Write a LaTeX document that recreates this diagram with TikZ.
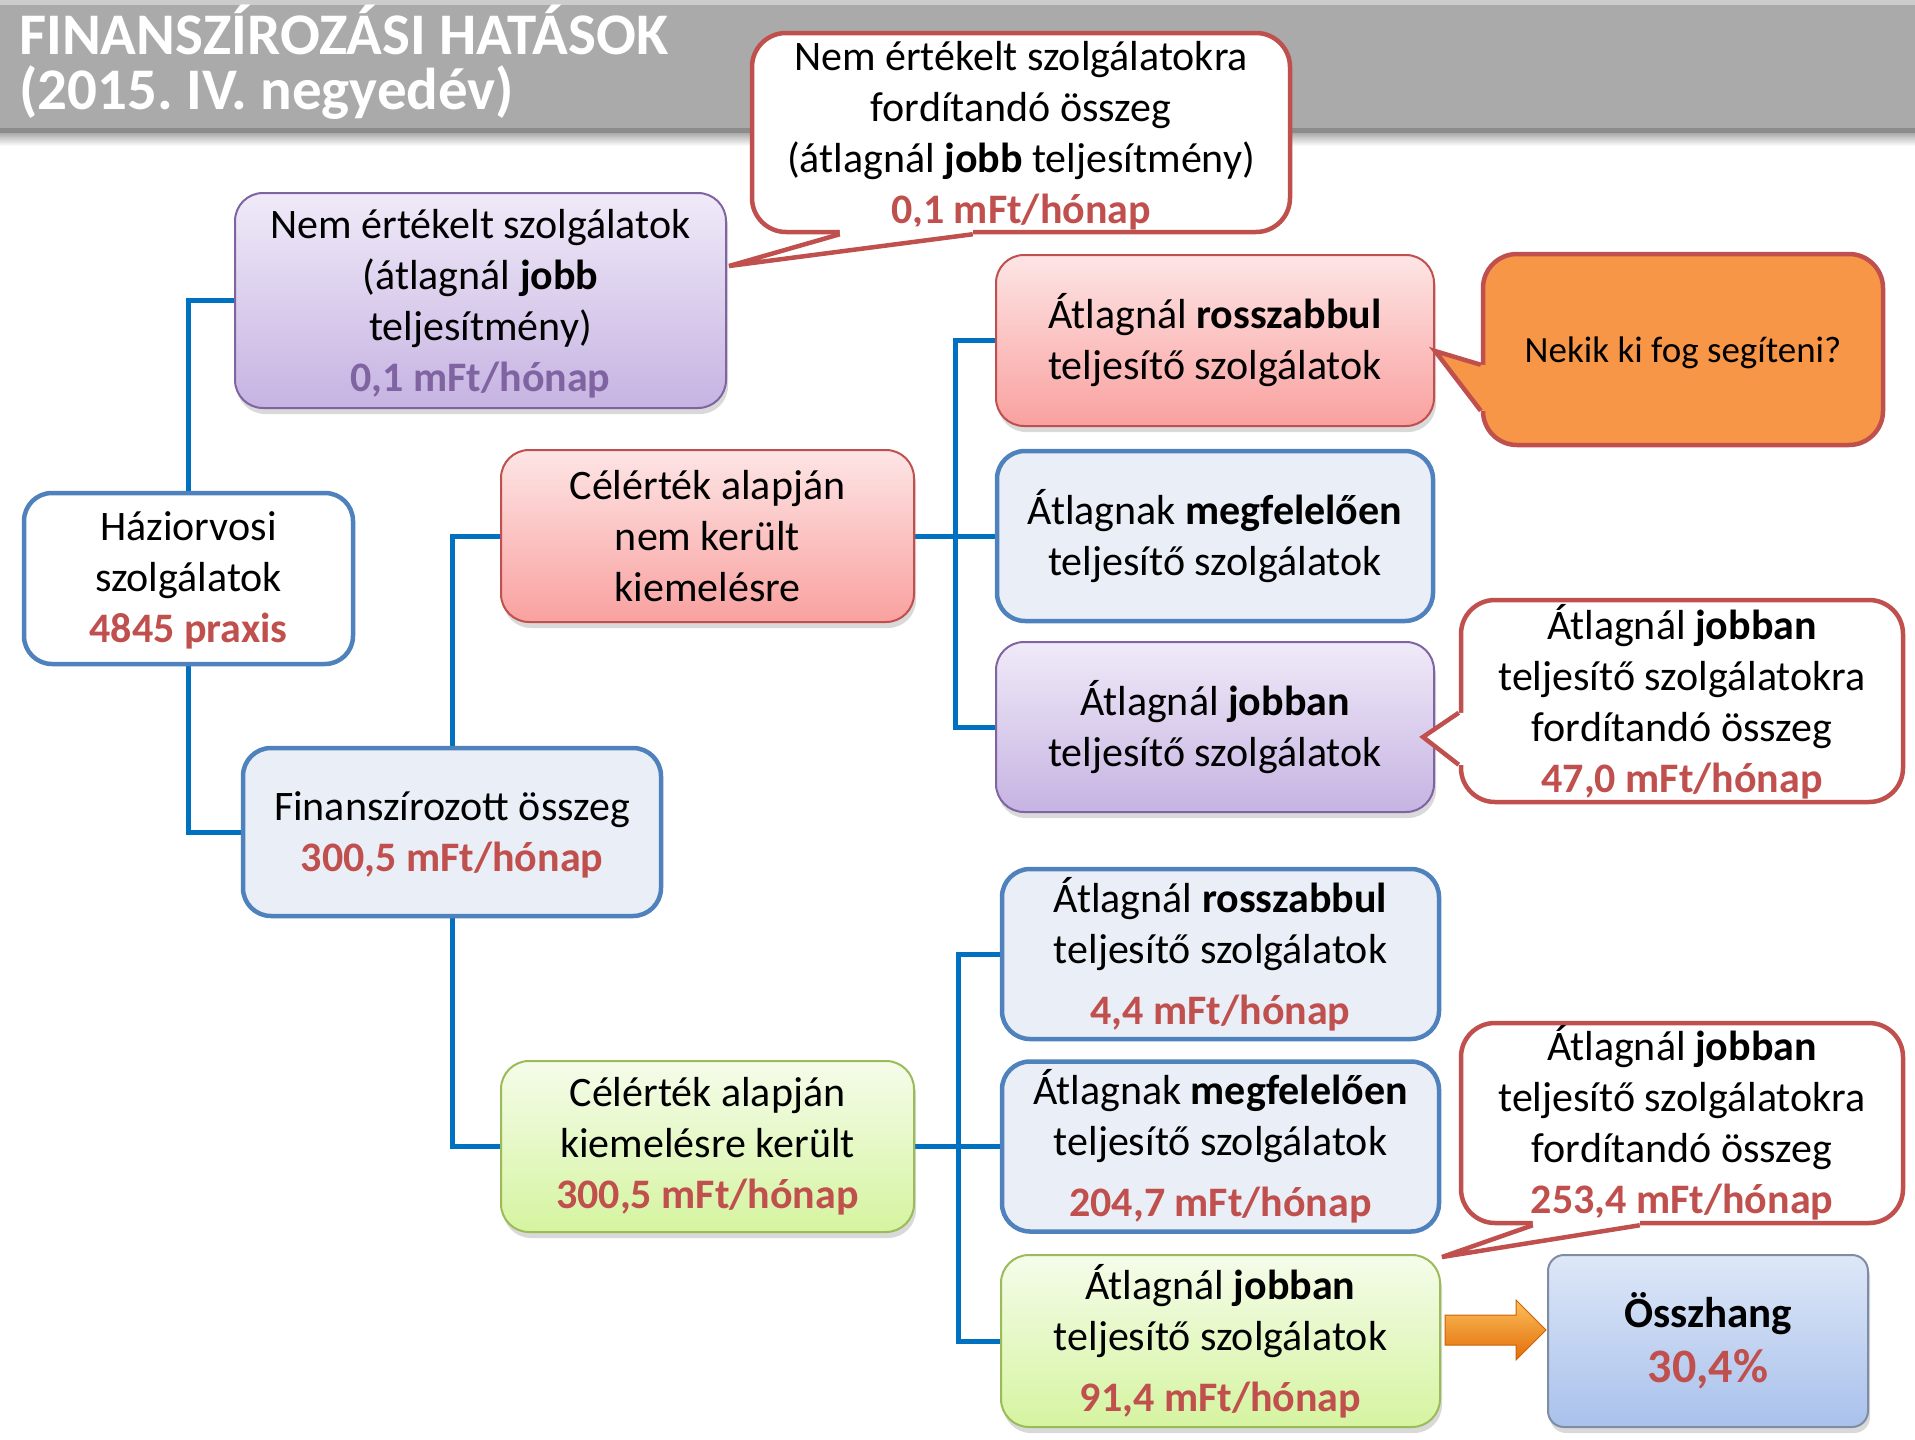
\documentclass[tikz,border=0pt]{standalone}
\usepackage{fontspec}
\setmainfont{Carlito}
\usetikzlibrary{shadows,calc,backgrounds}
\frenchspacing
\definecolor{cred}{HTML}{C0504D}
\definecolor{cpurp}{HTML}{8064A2}
\definecolor{conn}{HTML}{0070C0}
\definecolor{bblue}{HTML}{4F81BD}
\definecolor{lblue}{HTML}{EAEFF7}
\definecolor{purtop}{HTML}{F0EAF8}
\definecolor{purbot}{HTML}{C6B3E2}
\definecolor{redtop}{HTML}{FDE5E5}
\definecolor{redbot}{HTML}{F9A19F}
\definecolor{grntop}{HTML}{F5FCEA}
\definecolor{grnbot}{HTML}{D5F4A0}
\definecolor{grnbd}{HTML}{9BBB59}
\definecolor{osztop}{HTML}{DDE7F7}
\definecolor{oszbot}{HTML}{A9C1EC}
\definecolor{oszbd}{HTML}{7F8CA3}
\definecolor{corange}{HTML}{F79646}
\definecolor{artop}{HTML}{FBC05A}
\definecolor{arbot}{HTML}{E36C09}
\definecolor{titlegray}{HTML}{AAAAAA}
\newcommand{\boxfont}{\fontsize{42}{51}\selectfont}
\begin{document}
\begin{tikzpicture}[x=1pt,y=-1pt,
  every node/.style={inner sep=0pt, align=center, font=\boxfont},
  bluebox/.style={draw=bblue, line width=4.5pt, fill=lblue, rounded corners=28pt},
  whitebox/.style={draw=bblue, line width=4.5pt, fill=white, rounded corners=28pt},
  shad/.style={drop shadow={opacity=0.3, shadow xshift=2pt, shadow yshift=-6pt}},
  purpbox/.style={draw=cpurp, line width=2pt, top color=purtop, bottom color=purbot, rounded corners=28pt, shad},
  redbox/.style={draw=cred, line width=2pt, top color=redtop, bottom color=redbot, rounded corners=28pt, shad},
  greenbox/.style={draw=grnbd, line width=2pt, top color=grntop, bottom color=grnbot, rounded corners=28pt, shad},
  oszbox/.style={draw=oszbd, line width=2pt, top color=osztop, bottom color=oszbot, rounded corners=16pt, shad},
  callw/.style={draw=cred, line width=4.5pt, fill=white, rounded corners=34pt},
  callo/.style={draw=cred, line width=4.5pt, fill=corange, rounded corners=34pt},
  ptr/.style={draw=cred, line width=4.5pt, line join=miter},
  link/.style={draw=conn, line width=5pt}
]
\useasboundingbox (0,0) rectangle (1915,1440);
% title bar
\shade[top color=black!45, bottom color=white] (0,128) rectangle (1915,146);
\fill[titlegray] (0,4) rectangle (1915,132);
\fill[black!20] (0,0) rectangle (1915,5);
\fill[black!45] (0,128) rectangle (1915,133);
\node[anchor=west, text=white, align=left, font=\fontsize{59}{55}\selectfont\bfseries] (title) at (19,62)
  {FINANSZÍROZÁSI HATÁSOK\\(2015. IV. negyedév)};

% boxes
\node[purpbox, text depth=0pt, minimum width=491pt, minimum height=215pt] (purp) at (480.5,300.5)
  {Nem értékelt szolgálatok\\(átlagnál \textbf{jobb}\\teljesítmény)\\\textcolor{cpurp}{\textbf{0,1 mFt/hónap}}};
\node[whitebox, text depth=3pt, minimum width=329pt, minimum height=171pt] (hazi) at (188.5,578.5)
  {Háziorvosi\\szolgálatok\\\textcolor{cred}{\textbf{4845 praxis}}};
\node[bluebox, text depth=0pt, minimum width=418pt, minimum height=168pt] (fin) at (452,832)
  {Finanszírozott összeg\\\textcolor{cred}{\textbf{300,5 mFt/hónap}}};
\node[redbox, minimum width=413pt, minimum height=172pt] (redmid) at (707.5,536)
  {Célérték alapján\\nem került\\kiemelésre};
\node[greenbox, minimum width=413pt, minimum height=171pt] (grnmid) at (707.5,1146.5)
  {Célérték alapján\\kiemelésre került\\\textcolor{cred}{\textbf{300,5 mFt/hónap}}};
\node[redbox, minimum width=438pt, minimum height=171pt] (r1) at (1215,340.5)
  {Átlagnál \textbf{rosszabbul}\\teljesítő szolgálatok};
\node[bluebox, minimum width=436pt, minimum height=170pt] (r2) at (1215,536)
  {Átlagnak \textbf{megfelelően}\\teljesítő szolgálatok};
\node[purpbox, minimum width=438pt, minimum height=170pt] (r3) at (1215,727)
  {Átlagnál \textbf{jobban}\\teljesítő szolgálatok};
\node[bluebox, minimum width=437pt, minimum height=170pt] (r4) at (1220.5,954)
  {Átlagnál \textbf{rosszabbul}\\teljesítő szolgálatok\\[10pt]\textcolor{cred}{\textbf{4,4 mFt/hónap}}};
\node[bluebox, minimum width=437pt, minimum height=170pt] (r5) at (1220.5,1146.5)
  {Átlagnak \textbf{megfelelően}\\teljesítő szolgálatok\\[10pt]\textcolor{cred}{\textbf{204,7 mFt/hónap}}};
\node[greenbox, minimum width=439pt, minimum height=172pt] (r6) at (1220.5,1341)
  {Átlagnál \textbf{jobban}\\teljesítő szolgálatok\\[10pt]\textcolor{cred}{\textbf{91,4 mFt/hónap}}};
\node[oszbox, minimum width=320pt, minimum height=172pt, font=\fontsize{43}{55}\selectfont] (ossz) at (1708,1341)
  {\textbf{Összhang}\\\textcolor{cred}{\fontsize{48}{55}\selectfont\textbf{30,4\%}}};

% callout 1
\node[callw, text depth=0pt, minimum width=538pt, minimum height=199pt] (c1) at (1021,132.5)
  {Nem értékelt szolgálatokra\\fordítandó összeg\\(átlagnál \textbf{jobb} teljesítmény)\\\textcolor{cred}{\textbf{0,1 mFt/hónap}}};
\coordinate (c1a) at ($(c1.south west)+(90,0)$);
\coordinate (c1b) at ($(c1.south west)+(223,0)$);
\coordinate (c1t) at (729,266);
\fill[white] ($(c1a)+(0,-8)$) -- (c1a) -- (c1t) -- (c1b) -- ($(c1b)+(0,-8)$) -- cycle;
\draw[ptr] (c1a) -- (c1t) -- (c1b);

% callout 2 (orange)
\node[callo, text depth=0pt, minimum width=400pt, minimum height=191pt, font=\fontsize{37}{44}\selectfont] (c2) at (1683,349.5)
  {Nekik ki fog segíteni?};
\coordinate (c2a) at ($(c2.north west)+(0,113)$);
\coordinate (c2b) at ($(c2.north west)+(0,159)$);
\coordinate (c2t) at (1435,351);
\fill[corange] ($(c2a)+(8,0)$) -- (c2a) -- (c2t) -- (c2b) -- ($(c2b)+(8,0)$) -- cycle;
\draw[ptr] (c2a) -- (c2t) -- (c2b);

% callout 3
\node[callw, text depth=5pt, minimum width=442pt, minimum height=202pt] (c3) at (1682,701)
  {Átlagnál \textbf{jobban}\\teljesítő szolgálatokra\\fordítandó összeg\\\textcolor{cred}{\textbf{47,0 mFt/hónap}}};
\coordinate (c3a) at ($(c3.north west)+(0,115)$);
\coordinate (c3b) at ($(c3.north west)+(0,167)$);
\coordinate (c3t) at (1423,737);
\fill[white] ($(c3a)+(8,0)$) -- (c3a) -- (c3t) -- (c3b) -- ($(c3b)+(8,0)$) -- cycle;
\draw[ptr] (c3a) -- (c3t) -- (c3b);

% callout 4
\node[callw, minimum width=442pt, minimum height=200pt] (c4) at (1682,1123)
  {Átlagnál \textbf{jobban}\\teljesítő szolgálatokra\\fordítandó összeg\\\textcolor{cred}{\textbf{253,4 mFt/hónap}}};
\coordinate (c4a) at ($(c4.south west)+(74,0)$);
\coordinate (c4b) at ($(c4.south west)+(181,0)$);
\coordinate (c4t) at (1442,1257);
\fill[white] ($(c4a)+(0,-8)$) -- (c4a) -- (c4t) -- (c4b) -- ($(c4b)+(0,-8)$) -- cycle;
\draw[ptr] (c4a) -- (c4t) -- (c4b);

% orange block arrow r6 -> ossz
\shade[top color=artop, bottom color=arbot, draw=arbot!90!black, line width=1pt, line join=miter]
  ($(r6.east)+(4,-26)$) -- ($(r6.east)+(75,-26)$) -- ($(r6.east)+(75,-41)$) --
  ($(ossz.west)+(-1,-11)$) --
  ($(r6.east)+(75,19)$) -- ($(r6.east)+(75,4)$) -- ($(r6.east)+(4,4)$) -- cycle;

% connectors
\begin{scope}[on background layer]
\draw[link] (hazi.north) |- (purp.west);
\draw[link] (hazi.south) |- (fin.west);
\draw[link] (fin.north) |- (redmid.west);
\draw[link] (fin.south) |- (grnmid.west);
\draw[link] (redmid.east) -- (r2.west);
\draw[link] (r1.west) -- ++(-40,0) |- (r3.west);
\draw[link] (grnmid.east) -- (r5.west);
\draw[link] (r4.west) -- ++(-41,0) |- (r6.west);
\end{scope}
\end{tikzpicture}
\end{document}
